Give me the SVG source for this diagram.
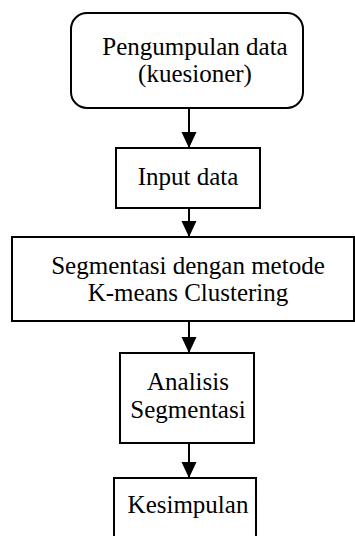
<svg xmlns="http://www.w3.org/2000/svg" width="355" height="536" viewBox="0 0 355 536">
<defs>
<style>
.box{fill:#fff;stroke:#000;stroke-width:2}
.t{font-family:"Liberation Serif","Times New Roman",serif;font-size:25px;fill:#000;text-anchor:middle}
.c{stroke:#000;stroke-width:2;fill:none}
</style>
<marker id="a2" markerWidth="16" markerHeight="17" refX="17" refY="8" orient="auto" markerUnits="userSpaceOnUse" viewBox="0 0 17 16">
<path d="M0,0 L17,8 L0,16 Z" fill="#000"/>
</marker>
</defs>
<rect width="355" height="536" fill="#fff"/>
<g id="connectors">
<line class="c" x1="189" y1="108" x2="189" y2="148" marker-end="url(#a2)"/>
<line class="c" x1="189" y1="208" x2="189" y2="237" marker-end="url(#a2)"/>
<line class="c" x1="189" y1="321" x2="189" y2="353" marker-end="url(#a2)"/>
<line class="c" x1="189" y1="443" x2="189" y2="478" marker-end="url(#a2)"/>
</g>
<g id="n1">
<rect class="box" x="71" y="13" width="232" height="95" rx="16"/>
<text class="t" x="195" y="55">Pengumpulan data</text>
<text class="t" x="195" y="82">(kuesioner)</text>
</g>
<g id="n2">
<rect class="box" x="116" y="148" width="144" height="60"/>
<text class="t" x="188" y="185">Input data</text>
</g>
<g id="n3">
<rect class="box" x="12" y="237" width="342" height="84"/>
<text class="t" x="188" y="274">Segmentasi dengan metode</text>
<text class="t" x="188" y="301">K-means Clustering</text>
</g>
<g id="n4">
<rect class="box" x="120" y="353" width="134" height="90"/>
<text class="t" x="188" y="390">Analisis</text>
<text class="t" x="188" y="418">Segmentasi</text>
</g>
<g id="n5">
<rect class="box" x="114" y="478" width="142" height="70"/>
<text class="t" x="188" y="513">Kesimpulan</text>
</g>
</svg>
